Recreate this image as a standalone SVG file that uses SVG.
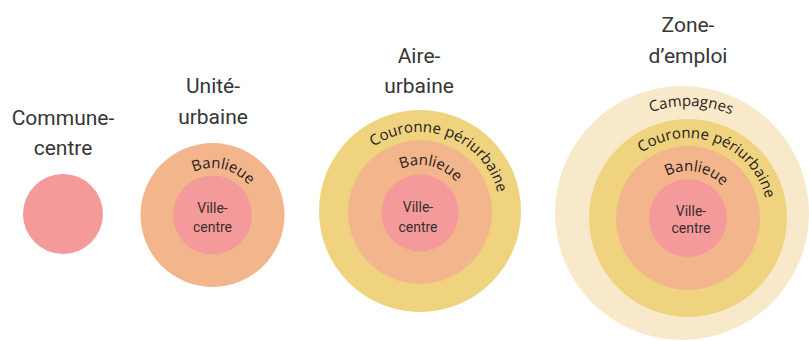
<svg xmlns="http://www.w3.org/2000/svg" width="809" height="341" viewBox="0 0 809 341">
<style>
.title{font-family:Roboto,"Liberation Sans",sans-serif;font-size:21px;fill:#363636;text-anchor:middle}
.vc{font-family:Roboto,"Liberation Sans",sans-serif;font-size:14px;fill:#3a2e2e;text-anchor:middle}
.arc{font-family:"Open Sans","Noto Sans",sans-serif;font-size:15px;fill:#262020;text-anchor:middle}
.pink{fill:#F49A9A}
.salmon{fill:#F3B58C}
.yellow{fill:#EFD37F}
.cream{fill:#F8E9CA}
</style>
<defs>
<path id="p2b" d="M212.5,262 A47,47 0 1 1 212.5,168 A47,47 0 1 1 212.5,262"/>
<path id="p3c" d="M420,292 A80,80 0 1 1 420,132 A80,80 0 1 1 420,292"/>
<path id="p3b" d="M420,259 A47,47 0 1 1 420,165 A47,47 0 1 1 420,259"/>
<path id="p4a" d="M688,330 A112,112 0 1 1 688,106 A112,112 0 1 1 688,330"/>
<path id="p4c" d="M688,298 A80,80 0 1 1 688,138 A80,80 0 1 1 688,298"/>
<path id="p4b" d="M688,265 A47,47 0 1 1 688,171 A47,47 0 1 1 688,265"/>
</defs>

<g id="commune-centre">
<text class="title" x="63" y="125">Commune-</text>
<text class="title" x="63" y="155">centre</text>
<circle class="pink" cx="63" cy="214" r="40"/>
</g>

<g id="unite-urbaine">
<text class="title" x="213" y="93">Unité-</text>
<text class="title" x="213" y="124">urbaine</text>
<circle class="salmon" cx="212.5" cy="215" r="72"/>
<circle class="pink" cx="212.5" cy="215" r="39.5"/>
<text class="arc"><textPath href="#p2b" startOffset="158.3">Banlieue</textPath></text>
<text class="vc" x="212.5" y="213">Ville-</text>
<text class="vc" x="212.5" y="232">centre</text>
</g>

<g id="aire-urbaine">
<text class="title" x="419" y="63">Aire-</text>
<text class="title" x="419" y="93">urbaine</text>
<circle class="yellow" cx="420" cy="211" r="101"/>
<circle class="salmon" cx="420" cy="212" r="72"/>
<circle class="pink" cx="420" cy="213" r="38.5"/>
<text class="arc"><textPath href="#p3c" startOffset="279.3">Couronne périurbaine</textPath></text>
<text class="arc"><textPath href="#p3b" startOffset="158.3">Banlieue</textPath></text>
<text class="vc" x="418" y="212">Ville-</text>
<text class="vc" x="418" y="232">centre</text>
</g>

<g id="zone-emploi">
<text class="title" x="688" y="32">Zone-</text>
<text class="title" x="688" y="63">d’emploi</text>
<circle class="cream" cx="682" cy="213" r="127"/>
<circle class="yellow" cx="688" cy="218" r="99"/>
<circle class="salmon" cx="688" cy="218" r="72"/>
<circle class="pink" cx="688" cy="218" r="39"/>
<text class="arc"><textPath href="#p4a" startOffset="354.8">Campagnes</textPath></text>
<text class="arc"><textPath href="#p4c" startOffset="279.3">Couronne périurbaine</textPath></text>
<text class="arc"><textPath href="#p4b" startOffset="155.9">Banlieue</textPath></text>
<text class="vc" x="691" y="216">Ville-</text>
<text class="vc" x="691" y="233">centre</text>
</g>

<g id="connectors"></g>
</svg>
